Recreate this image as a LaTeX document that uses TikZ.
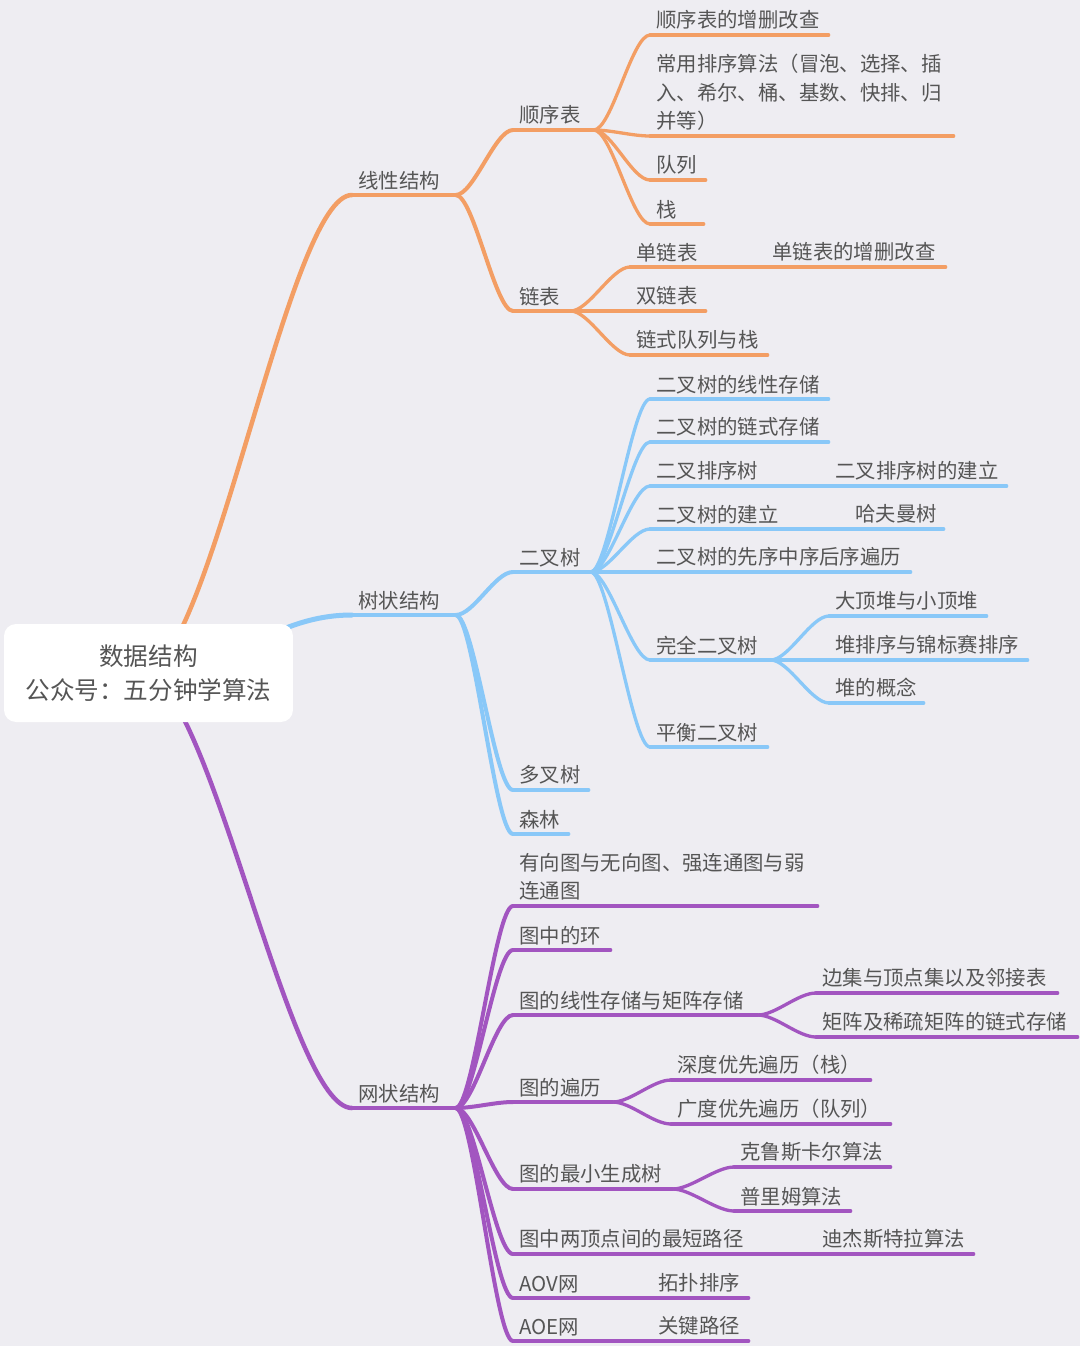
\documentclass[tikz,border=0pt]{standalone}
\usepackage{fontspec}
\setmainfont{Noto Sans CJK SC}
\usepackage{xcolor}
\usepackage{tikz}
\definecolor{bgc}{RGB}{238,237,242}
\definecolor{ink}{RGB}{85,85,85}
\definecolor{orng}{RGB}{243,158,100}
\definecolor{skyb}{RGB}{137,200,248}
\definecolor{purp}{RGB}{162,85,192}
\newcommand\leaffont{\fontsize{11.6pt}{16.2pt}\selectfont}
\newcommand\rootfont{\fontsize{14pt}{19.3pt}\selectfont}
\tikzset{
topic/.style={
anchor=south west,
inner xsep=0.12cm,
inner ysep=0.1cm,
align=left,
text=ink,
font=\leaffont
},
rootbox/.style={
fill=white,
rounded corners=0.24cm,
minimum width=5.78cm,
minimum height=1.96cm,
align=center,
text=ink,
font=\rootfont
},
link/.style={
to path={..controls+(18,0)and+(-18,0)..(\tikztotarget)}
},
oline/.style={draw=orng,line width=0.066cm,line cap=round},
bline/.style={draw=skyb,line width=0.066cm,line cap=round},
pline/.style={draw=purp,line width=0.066cm,line cap=round}
}

\begin{document}
\begin{tikzpicture}[x=0.02cm,y=-0.02cm]
\fill[bgc](0,0)rectangle(1080,1346);
\useasboundingbox(0,0)rectangle(1080,1346);
\coordinate(rc)at(148.5,673);

% linear structures
\node[topic,text width=1.82cm](lin)at(352,195){线性结构};
\node[topic,text width=1.36cm](sxb)at(513,130){顺序表};
\node[topic,text width=3.32cm](sxb1)at(650,35){顺序表的增删改查};
\node[topic,text width=5.82cm](sxb2)at(650,136){常用排序算法（冒泡、选择、插\\入、希尔、桶、基数、快排、归\\并等）};
\node[topic,text width=0.86cm](dl)at(650,180){队列};
\node[topic,text width=0.82cm](zhan)at(650,224){栈};
\node[topic,text width=0.90cm](lb)at(513,311){链表};
\node[topic,text width=1.26cm](dlb)at(630,267){单链表};
\node[topic,text width=3.34cm](dlb1)at(766,267){单链表的增删改查};
\node[topic,text width=1.26cm](slb)at(630,311){双链表};
\node[topic,text width=2.50cm](lsdl)at(630,355){链式队列与栈};

% trees
\node[topic,text width=1.82cm](tree)at(352,615){树状结构};
\node[topic,text width=1.30cm](ecs)at(513,572){二叉树};
\node[topic,text width=3.32cm](e1)at(650,399){二叉树的线性存储};
\node[topic,text width=3.32cm](e2)at(650,442){二叉树的链式存储};
\node[topic,text width=2.10cm](e3)at(650,486){二叉排序树};
\node[topic,text width=3.30cm](e3a)at(829,486){二叉排序树的建立};
\node[topic,text width=2.36cm](e4)at(650,529){二叉树的建立};
\node[topic,text width=1.64cm](e4a)at(849,529){哈夫曼树};
\node[topic,text width=4.96cm](e5)at(650,572){二叉树的先序中序后序遍历};
\node[topic,text width=2.16cm](e6)at(650,660){完全二叉树};
\node[topic,text width=2.90cm](e6a)at(829,616){大顶堆与小顶堆};
\node[topic,text width=3.72cm](e6b)at(829,660){堆排序与锦标赛排序};
\node[topic,text width=1.64cm](e6c)at(829,703){堆的概念};
\node[topic,text width=2.10cm](e7)at(650,747){平衡二叉树};
\node[topic,text width=1.26cm](dcs)at(513,790){多叉树};
\node[topic,text width=0.86cm](sl)at(513,834){森林};

% graphs
\node[topic,text width=1.82cm](net)at(352,1108){网状结构};
\node[topic,text width=5.84cm](g1)at(513,906){有向图与无向图、强连通图与弱\\连通图};
\node[topic,text width=1.70cm](g2)at(513,950){图中的环};
\node[topic,text width=4.64cm](g3)at(513,1015){图的线性存储与矩阵存储};
\node[topic,text width=4.58cm](g3a)at(816,993){边集与顶点集以及邻接表};
\node[topic,text width=4.98cm](g3b)at(816,1037){矩阵及稀疏矩阵的链式存储};
\node[topic,text width=1.74cm](g4)at(513,1102){图的遍历};
\node[topic,text width=3.74cm](g4a)at(671,1080){深度优先遍历（栈）};
\node[topic,text width=4.14cm](g4b)at(671,1124){广度优先遍历（队列）};
\node[topic,text width=2.94cm](g5)at(513,1189){图的最小生成树};
\node[topic,text width=2.88cm](g5a)at(734,1167){克鲁斯卡尔算法};
\node[topic,text width=2.08cm](g5b)at(734,1211){普里姆算法};
\node[topic,text width=4.64cm](g6)at(513,1254){图中两顶点间的最短路径};
\node[topic,text width=2.90cm](g6a)at(816,1254){迪杰斯特拉算法};
\node[topic,text width=1.30cm](g7)at(513,1298){AOV网};
\node[topic,text width=1.68cm](g7a)at(652,1298){拓扑排序};
\node[topic,text width=1.30cm](g8)at(513,1341){AOE网};
\node[topic,text width=1.68cm](g8a)at(652,1341){关键路径};

% underlines
\foreach \n in {lin,sxb,sxb1,sxb2,dl,zhan,lb,dlb,dlb1,slb,lsdl}
\draw[oline](\n.south west)--(\n.south east);
\foreach \n in {tree,ecs,e1,e2,e3,e3a,e4,e4a,e5,e6,e6a,e6b,e6c,e7,dcs,sl}
\draw[bline](\n.south west)--(\n.south east);
\foreach \n in {net,g1,g2,g3,g3a,g3b,g4,g4a,g4b,g5,g5a,g5b,g6,g6a,g7,g7a,g8,g8a}
\draw[pline](\n.south west)--(\n.south east);

% links
\foreach \a/\b in {lin/sxb,lin/lb}
\draw[oline,line width=0.08cm](\a.south east)to[link](\b.south west);
\foreach \a/\b in {sxb/sxb1,sxb/sxb2,sxb/dl,sxb/zhan,lb/dlb,lb/slb,lb/lsdl,dlb/dlb1}
\draw[oline](\a.south east)to[link](\b.south west);
\foreach \a/\b in {tree/ecs,tree/dcs,tree/sl}
\draw[bline,line width=0.08cm](\a.south east)to[link](\b.south west);
\foreach \a/\b in {ecs/e1,ecs/e2,ecs/e3,ecs/e4,ecs/e5,ecs/e6,ecs/e7,e3/e3a,e4/e4a,e6/e6a,e6/e6b,e6/e6c}
\draw[bline](\a.south east)to[link](\b.south west);
\foreach \a/\b in {net/g1,net/g2,net/g3,net/g4,net/g5,net/g6,net/g7,net/g8}
\draw[pline,line width=0.08cm](\a.south east)to[link](\b.south west);
\foreach \a/\b in {g3/g3a,g3/g3b,g4/g4a,g4/g4b,g5/g5a,g5/g5b,g6/g6a,g7/g7a,g8/g8a}
\draw[pline](\a.south east)to[link](\b.south west);

% main branches
\draw[oline,line width=0.09cm](rc)..controls+(67,-32)and+(-62,0)..(lin.south west);
\draw[bline,line width=0.1cm](rc)to[out=0,in=180](tree.south west);
\draw[pline,line width=0.09cm](rc)..controls+(67,32)and+(-62,0)..(net.south west);

\node[rootbox](root)at(rc){数据结构\\公众号：五分钟学算法};
\end{tikzpicture}
\end{document}
